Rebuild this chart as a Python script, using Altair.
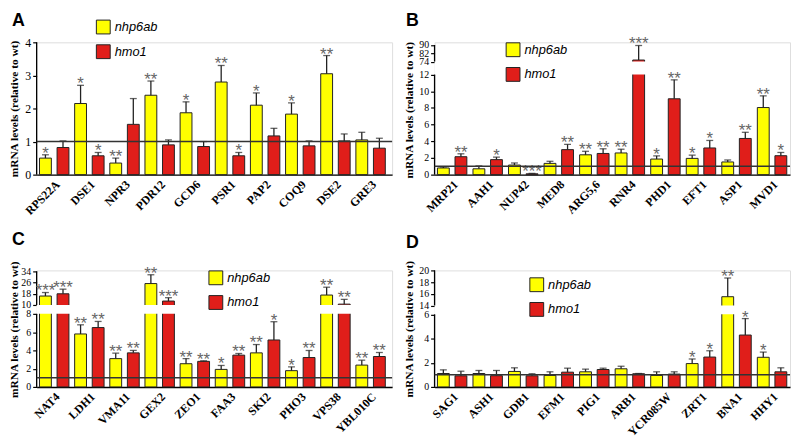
import altair as alt
import pandas as pd

SERIES = ["nhp6ab", "hmo1"]
COLORS = ["#ffff00", "#e01e1a"]

# ---- Panel A ----
A_genes = ["RPS22A", "DSE1", "NPR3", "PDR12", "GCD6", "PSR1", "PAP2", "COQ9", "DSE2", "GRE3"]
A_nhp = [0.50, 2.15, 0.35, 2.40, 1.87, 2.80, 2.10, 1.83, 3.05, 1.05]
A_nhp_top = [0.60, 2.70, 0.50, 2.83, 2.20, 3.30, 2.47, 2.17, 3.60, 1.28]
A_nhp_sig = ["*", "*", "**", "**", "*", "**", "*", "*", "**", ""]
A_hmo = [0.82, 0.57, 1.52, 0.90, 0.85, 0.57, 1.17, 0.87, 1.02, 0.80]
A_hmo_top = [1.02, 0.67, 2.30, 1.05, 1.00, 0.67, 1.40, 1.02, 1.23, 1.10]
A_hmo_sig = ["", "*", "", "", "", "*", "", "", "", ""]

# ---- Panel B ----
B_genes = ["MRP21", "AAH1", "NUP42", "MED8", "ARG5,6", "RNR4", "PHD1", "EFT1", "ASP1", "MVD1"]
B_nhp = [0.80, 0.70, 1.15, 1.35, 2.38, 2.60, 1.87, 1.95, 1.52, 8.05]
B_nhp_top = [0.92, 1.05, 1.40, 1.60, 2.80, 3.05, 2.25, 2.34, 1.76, 9.45]
B_nhp_sig = ["", "", "", "", "**", "**", "*", "*", "", "**"]
B_hmo = [2.15, 1.80, 0.10, 3.00, 2.54, 75.5, 9.10, 3.20, 4.34, 2.27]
B_hmo_top = [2.50, 2.10, 0.15, 3.63, 3.10, 89.5, 11.37, 4.10, 5.08, 2.66]
B_hmo_sig = ["**", "*", "***", "**", "**", "***", "**", "*", "**", "*"]

# ---- Panel C ----
C_genes = ["NAT4", "LDH1", "VMA11", "GEX2", "ZEO1", "FAA3", "SKI2", "PHO3", "VPS38", "YBL010C"]
C_nhp = [16.4, 5.80, 3.10, 25.3, 2.54, 1.92, 3.73, 1.78, 17.1, 2.39]
C_nhp_top = [18.9, 6.80, 3.70, 31.6, 3.10, 2.35, 4.64, 2.20, 22.7, 2.93]
C_nhp_sig = ["***", "**", "**", "**", "**", "*", "**", "*", "**", "**"]
C_hmo = [18.0, 6.50, 3.73, 12.8, 2.80, 3.48, 5.14, 3.22, 10.6, 3.33]
C_hmo_top = [21.3, 7.17, 4.00, 15.2, 2.86, 3.66, 7.14, 3.99, 14.0, 3.77]
C_hmo_sig = ["***", "**", "**", "***", "**", "**", "*", "**", "**", "**"]

# ---- Panel D ----
D_genes = ["SAG1", "ASH1", "GDB1", "EFM1", "PIG1", "ARB1", "YCR085W", "ZRT1", "BNA1", "HHY1"]
D_nhp = [1.11, 1.11, 1.28, 0.95, 1.25, 1.50, 0.95, 1.93, 15.5, 2.45]
D_nhp_top = [1.41, 1.36, 1.58, 1.25, 1.47, 1.71, 1.25, 2.31, 18.7, 2.88]
D_nhp_sig = ["", "", "", "", "", "", "", "*", "**", "*"]
D_hmo = [0.92, 0.93, 0.92, 1.22, 1.44, 1.09, 1.06, 2.47, 4.29, 1.25]
D_hmo_top = [1.30, 1.36, 1.09, 1.55, 1.55, 1.11, 1.25, 2.99, 5.65, 1.58]
D_hmo_sig = ["", "", "", "", "", "", "", "*", "*", ""]

YTITLE = "mRNA levels (relative to wt)"


def long_df(genes, nhp, nhp_top, nhp_sig, hmo, hmo_top, hmo_sig):
    rows = []
    for i, g in enumerate(genes):
        rows.append(dict(gene=g, series="nhp6ab", value=nhp[i], top=nhp_top[i], sig=nhp_sig[i]))
        rows.append(dict(gene=g, series="hmo1", value=hmo[i], top=hmo_top[i], sig=hmo_sig[i]))
    return pd.DataFrame(rows)


def panel(letter, genes, df, ydom, yrange, yticks, segs, gap, width, height,
          po, legend_xy, ldx, ldy, title_x, label_size):
    yscale = alt.Scale(domain=ydom, range=yrange, nice=False, zero=False)
    xscale = alt.Scale(paddingInner=0, paddingOuter=po, align=0)
    xoff = alt.XOffset("series:N", scale=alt.Scale(domain=SERIES, paddingInner=0.326,
                                                   paddingOuter=0.163))
    xaxis = alt.Axis(title=None, labelAngle=-45, labelAlign="right", labelBaseline="top",
                     labelFont="Liberation Serif", labelFontWeight="bold", labelFontSize=12,
                     labelColor="black", ticks=False, domainColor="black", domainWidth=1.5,
                     labelPadding=4, labelLimit=200)
    yaxis = alt.Axis(title=YTITLE, values=yticks, domain=False, grid=False, tickColor="black",
                     tickSize=4, tickWidth=1.2, labelFont="Liberation Serif",
                     labelFontSize=label_size, labelColor="black", labelPadding=2,
                     titleFont="Liberation Serif", titleFontWeight="bold", titleFontSize=11.5,
                     titleColor="black", titleX=title_x, labelFlush=False, labelOverlap=False)
    X = alt.X("gene:N", sort=genes, scale=xscale, axis=xaxis)

    def Y(field):
        return alt.Y(field, scale=yscale, axis=yaxis)

    base = alt.Chart(df)
    bars = base.mark_bar(stroke="#222", strokeWidth=1).encode(
        x=X, xOffset=xoff, y=Y("value:Q"),
        color=alt.Color("series:N", scale=alt.Scale(domain=SERIES, range=COLORS),
                        legend=alt.Legend(title=None, orient="none", legendX=legend_xy[0],
                                          legendY=legend_xy[1], symbolType="square",
                                          symbolSize=196, symbolStrokeColor="#222",
                                          symbolStrokeWidth=1, labelFont="Liberation Sans",
                                          labelFontStyle="italic", labelFontSize=13,
                                          labelColor="black", rowPadding=6, labelOffset=4,
                                          padding=0)),
    )
    layers = [bars]
    if gap is not None:
        gdf = pd.DataFrame({"gene": genes, "lo": [gap[0]] * len(genes),
                            "hi": [gap[1]] * len(genes)})
        layers.append(alt.Chart(gdf).mark_rect(color="white").encode(
            x=X, y=Y("lo:Q"), y2="hi:Q"))
    sdf = pd.DataFrame({"lo": [s[0] for s in segs], "hi": [s[1] for s in segs]})
    layers.append(alt.Chart(sdf).mark_rule(color="black", strokeWidth=1.3).encode(
        x=alt.value(0), y=Y("lo:Q"), y2="hi:Q"))
    layers.append(base.mark_rule(color="#222", strokeWidth=1.3).encode(
        x=X, xOffset=xoff, y=Y("value:Q"), y2="top:Q"))
    layers.append(base.mark_tick(color="#222", thickness=1.3, size=7).encode(
        x=X, xOffset=xoff, y=Y("top:Q")))
    layers.append(base.transform_filter(alt.datum.sig != "").mark_text(
        color="#666", fontSize=17, font="Liberation Sans", baseline="alphabetic", dy=4).encode(
        x=X, xOffset=xoff, y=Y("top:Q"), text="sig:N"))
    rdf = pd.DataFrame({"ref": [1.0]})
    layers.append(alt.Chart(rdf).mark_rule(color="#333", strokeWidth=1.5).encode(
        y=Y("ref:Q")))
    ldf = pd.DataFrame({"letter": [letter]})
    layers.append(alt.Chart(ldf).mark_text(
        font="Liberation Sans", fontWeight="bold", fontSize=18, color="black",
        align="left", baseline="top").encode(
        x=alt.value(ldx), y=alt.value(ldy), text="letter:N"))

    return alt.layer(*layers).properties(width=width, height=height)


A = panel("A", A_genes, long_df(A_genes, A_nhp, A_nhp_top, A_nhp_sig, A_hmo, A_hmo_top, A_hmo_sig),
          [0, 4], [134, 0], [0, 1, 2, 3, 4], [(0, 4)], None, 360, 134, 0.056, (60, -23),
          -25, -31, -17, 12)
B = panel("B", B_genes, long_df(B_genes, B_nhp, B_nhp_top, B_nhp_sig, B_hmo, B_hmo_top, B_hmo_sig),
          [0, 12, 74, 90], [134, 32.7, 19.5, 2.7], [0, 2, 4, 6, 8, 10, 12, 74, 82, 90],
          [(0, 12), (74, 90)], (12, 74), 360, 134, 0.0, (72, 0), -29, -31, -20, 10)
C = panel("C", C_genes, long_df(C_genes, C_nhp, C_nhp_top, C_nhp_sig, C_hmo, C_hmo_top, C_hmo_sig),
          [0, 8, 10, 34], [118, 44, 35, 1], [0, 2, 4, 6, 8, 10, 18, 26, 34],
          [(0, 8), (10, 34)], (8, 10), 360, 118, 0.056, (174, 0), -25, -40, -17, 10)
D = panel("D", D_genes, long_df(D_genes, D_nhp, D_nhp_top, D_nhp_sig, D_hmo, D_hmo_top, D_hmo_sig),
          [0, 6, 14, 20], [118, 44.5, 35.5, 0], [0, 2, 4, 6, 14, 16, 18, 20],
          [(0, 6), (14, 20)], (6, 14), 360, 118, 0.0, (96, 7), -29, -37, -20, 10)

chart = alt.concat(A, B, C, D, columns=2, bounds="flush",
                   spacing={"row": 97, "column": 43}).resolve_scale(
    color="independent").properties(
    padding={"left": 0, "top": 0, "right": 0, "bottom": 0}).configure_view(
    stroke=None).configure(background="white")

chart.save("out.html", embed_options={"renderer": "svg", "actions": False})
